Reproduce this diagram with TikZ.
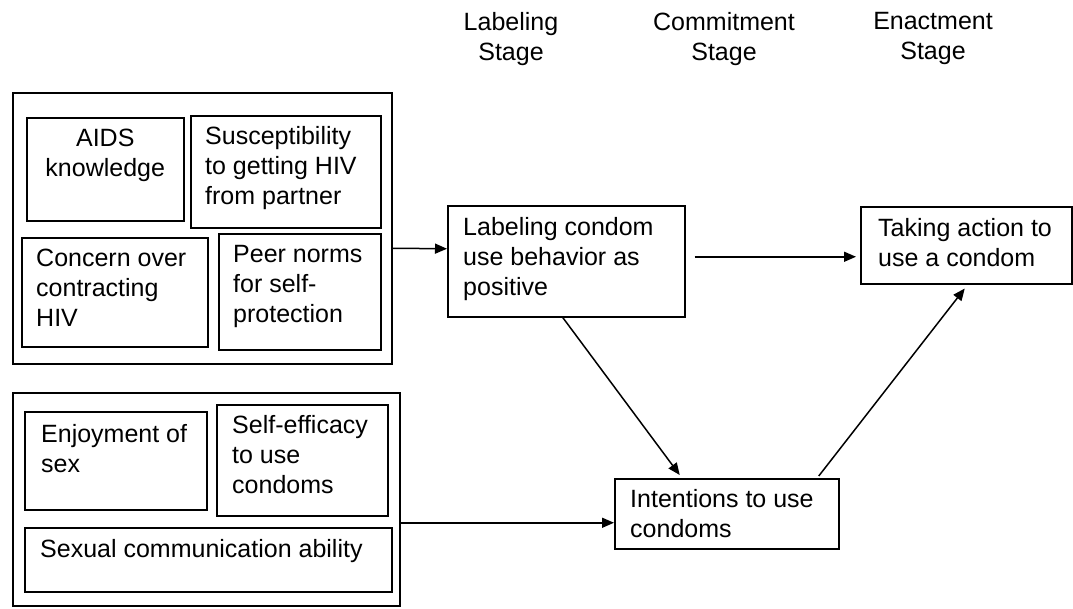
\documentclass[tikz,border=0pt]{standalone}
\usepackage{fontspec}
\setmainfont{Liberation Sans}
\usetikzlibrary{arrows.meta}
\begin{document}
\begin{tikzpicture}[x=1pt,y=-1pt,
  box/.style={draw=black, line width=1.5pt, inner sep=0pt, anchor=north west},
  txt/.style={inner sep=0pt, align=left, anchor=north west, font=\fontsize{25}{30}\selectfont},
  ctxt/.style={inner sep=0pt, align=center, anchor=north, font=\fontsize{25}{30}\selectfont},
  arr/.style={line width=1.5pt, -{Triangle[length=12pt,width=10pt]}}]
\useasboundingbox (0,0) rectangle (1073,608);
% headings
\node[ctxt] (h1) at (511,12) {Labeling\\Stage};
\node[ctxt] (h2) at (724,12) {Commitment\\Stage};
\node[ctxt] (h3) at (933,12) {Enactment\\Stage};
% group 1
\node[box, minimum width=379pt, minimum height=271pt] (out1) at (12,92) {};
\node[box, minimum width=157pt, minimum height=103pt] (aids) at (26,117) {};
\node[ctxt] (aidsT) at ([shift={(0,12)}]aids.north) {AIDS\\knowledge};
\node[box, minimum width=190pt, minimum height=112pt] (sus) at (190,115) {};
\node[txt] (susT) at ([shift={(15,11)}]sus.north west) {Susceptibility\\to getting HIV\\from partner};
\node[box, minimum width=186pt, minimum height=109pt] (con) at (21,237) {};
\node[txt] (conT) at ([shift={(15,12)}]con.north west) {Concern over\\contracting\\HIV};
\node[box, minimum width=162pt, minimum height=116pt] (peer) at (218,233) {};
\node[txt] (peerT) at ([shift={(15,12)}]peer.north west) {Peer norms\\for self-\\protection};
% group 2
\node[box, minimum width=387pt, minimum height=213pt] (out2) at (12,392) {};
\node[box, minimum width=182pt, minimum height=98pt] (enj) at (24,411) {};
\node[txt] (enjT) at ([shift={(17,13)}]enj.north west) {Enjoyment of\\sex};
\node[box, minimum width=171pt, minimum height=111pt] (self) at (216,404) {};
\node[txt] (selfT) at ([shift={(16,11)}]self.north west) {Self-efficacy\\to use\\condoms};
\node[box, minimum width=367pt, minimum height=64pt] (sex) at (24,527) {};
\node[txt] (sexT) at ([shift={(16,12)}]sex.north west) {Sexual communication ability};
% stages
\node[box, minimum width=237pt, minimum height=111pt] (lab) at (447,205) {};
\node[txt] (labT) at ([shift={(16,12)}]lab.north west) {Labeling condom\\use behavior as\\positive};
\node[box, minimum width=211pt, minimum height=77pt] (act) at (860,206) {};
\node[txt] (actT) at ([shift={(18,12)}]act.north west) {Taking action to\\use a condom};
\node[box, minimum width=224pt, minimum height=70pt] (int) at (614,478) {};
\node[txt] (intT) at ([shift={(16,11)}]int.north west) {Intentions to use\\condoms};
% connectors
\draw[arr] ([yshift=-20pt]out1.east) -- ([yshift=12.5pt]lab.west);
\draw[arr] ([xshift=9pt,yshift=4.5pt]lab.east) -- ([xshift=-4pt,yshift=-11.5pt]act.west);
\draw[arr] ([xshift=-3.5pt]lab.south) -- ([xshift=-47pt,yshift=3pt]int.north);
\draw[arr] ([xshift=92pt,yshift=2pt]int.north) -- ([xshift=-1.5pt,yshift=-4pt]act.south);
\draw[arr] ([yshift=-23.5pt]out2.east) -- ([yshift=-9pt]int.west);
\end{tikzpicture}
\end{document}
